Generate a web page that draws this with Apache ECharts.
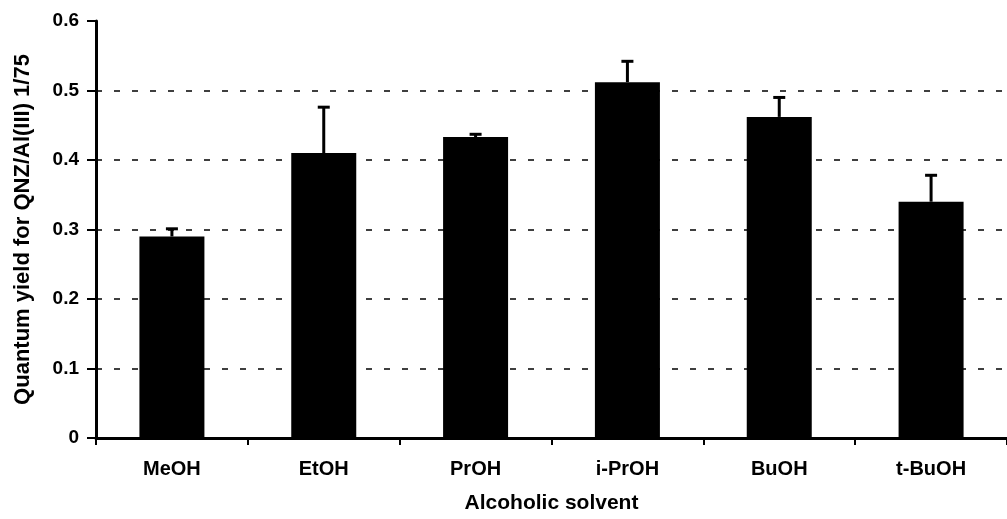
<!DOCTYPE html>
<html>
<head>
<meta charset="utf-8">
<script src="https://cdn.jsdelivr.net/npm/echarts@6/dist/echarts.min.js"></script>
<style>
    html, body { margin: 0; padding: 0; background: #fff; }
    #chart { width: 1007px; height: 519px; }
</style>
</head>
<body>
<div id="chart"></div>
<script>
//溶剂与量子产率
var solvents = ['MeOH', 'EtOH', 'PrOH', 'i-PrOH', 'BuOH', 't-BuOH'];
var yieldValues = [0.29, 0.41, 0.433, 0.512, 0.462, 0.34];
var errorTops = [0.301, 0.476, 0.437, 0.542, 0.49, 0.378];
var gridValues = [0.1, 0.2, 0.3, 0.4, 0.5];

var fontName = "'Liberation Sans', Arial, sans-serif";

var errorData = [];
for (var i = 0; i < solvents.length; i++) {
    errorData.push([i, yieldValues[i], errorTops[i]]);
}

//误差线
function renderError(params, api) {
    var bottom = api.coord([api.value(0), api.value(1)]);
    var top = api.coord([api.value(0), api.value(2)]);
    var capHalf = 6;
    var style = { stroke: '#000', lineWidth: 3 };
    return {
        type: 'group',
        children: [
            { type: 'line', shape: { x1: top[0], y1: top[1], x2: bottom[0], y2: bottom[1] }, style: style },
            { type: 'line', shape: { x1: top[0] - capHalf, y1: top[1], x2: top[0] + capHalf, y2: top[1] }, style: style }
        ]
    };
}

var chartObj = echarts.init(document.getElementById('chart'));
var chartOption = {
    animation: false,
    grid: {
        left: 96,
        top: 21,
        bottom: 73,
        width: 924
    },
    xAxis: {
        type: 'category',
        data: solvents,
        name: 'Alcoholic solvent',
        nameLocation: 'middle',
        nameGap: 55,
        nameTextStyle: { color: '#000', fontFamily: fontName, fontWeight: 'bold', fontSize: 21 },
        axisLine: { lineStyle: { color: '#000', width: 3 } },
        axisTick: { show: true, length: 7, lineStyle: { color: '#000', width: 2 } },
        axisLabel: { color: '#000', fontFamily: fontName, fontWeight: 'bold', fontSize: 20, margin: 21 }
    },
    yAxis: {
        type: 'value',
        min: 0,
        max: 0.6,
        interval: 0.1,
        name: 'Quantum yield for QNZ/Al(III) 1/75',
        nameLocation: 'middle',
        nameGap: 62,
        nameTextStyle: { color: '#000', fontFamily: fontName, fontWeight: 'bold', fontSize: 22 },
        axisLine: { show: true, lineStyle: { color: '#000', width: 3 } },
        axisTick: { show: true, length: 9, lineStyle: { color: '#000', width: 2 } },
        axisLabel: {
            color: '#000', fontFamily: fontName, fontWeight: 'bold', fontSize: 19, margin: 17,
            formatter: function (v) { return v === 0 ? '0' : v.toFixed(1); }
        },
        splitLine: { show: false }
    },
    series: [
        {
            name: 'yield',
            type: 'bar',
            data: yieldValues,
            barWidth: 65,
            z: 2,
            itemStyle: { color: '#000' },
            markLine: {
                z: 1,
                silent: true,
                symbol: 'none',
                label: { show: false },
                lineStyle: { color: '#000', width: 1.5, type: [6, 12] },
                data: gridValues.map(function (v) { return { yAxis: v }; })
            }
        },
        {
            name: 'error',
            type: 'custom',
            renderItem: renderError,
            data: errorData,
            z: 3
        }
    ]
};
chartObj.setOption(chartOption);
</script>
</body>
</html>
